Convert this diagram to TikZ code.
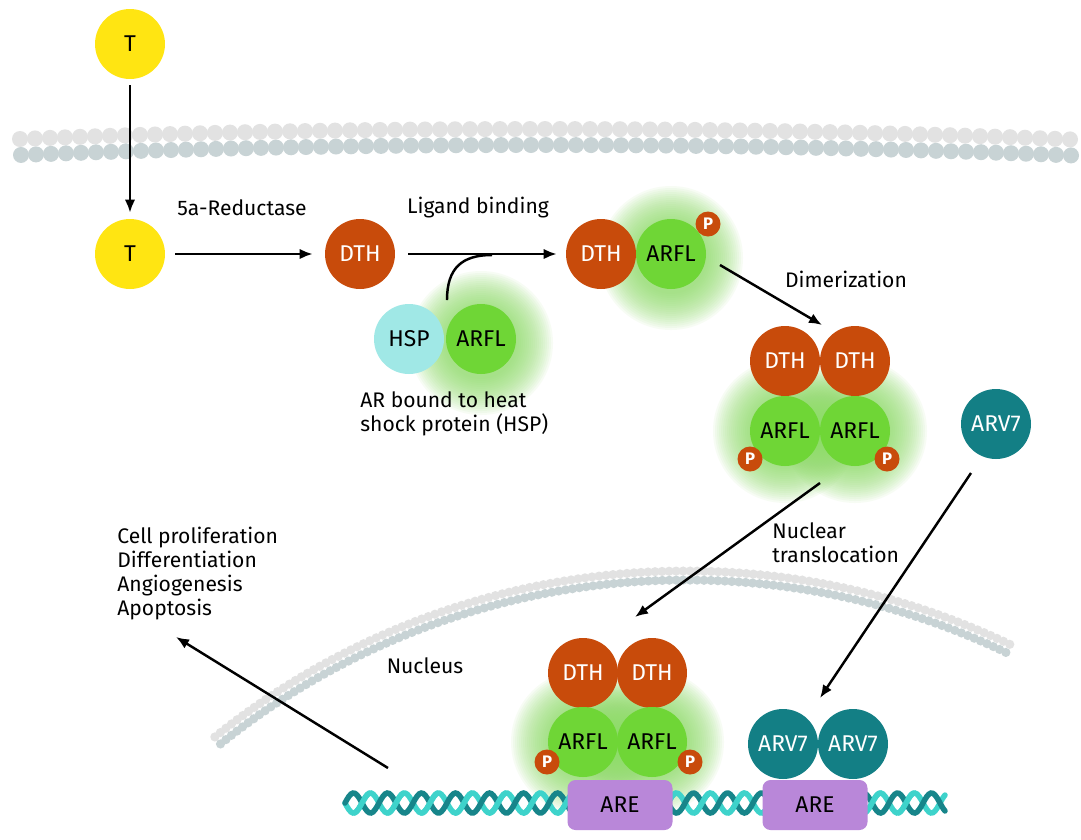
\documentclass[tikz,border=0pt]{standalone}
\usepackage{fontspec}
\setmainfont{Fira Sans}
\usetikzlibrary{arrows.meta}

\definecolor{tyellow}{HTML}{FFE512}
\definecolor{dthred}{HTML}{C84B0B}
\definecolor{arflgreen}{HTML}{6FD636}
\definecolor{hspcyan}{HTML}{A0E8E6}
\definecolor{arvteal}{HTML}{137F85}
\definecolor{arepurple}{HTML}{B987D9}
\definecolor{glowgreen}{HTML}{8CDC64}
\definecolor{memlight}{HTML}{E2E2E2}
\definecolor{memdark}{HTML}{C8D3D5}
\definecolor{dnadark}{HTML}{17858A}
\definecolor{dnalight}{HTML}{3ED3CB}

\newcommand{\glowat}[2]{\foreach \r in {36,38,...,72}{\fill[glowgreen, opacity=0.065] (#1,#2) circle (\r);}}

\begin{document}
\begin{tikzpicture}[x=0.02cm, y=-0.02cm,
  every node/.style={font=\fontsize{12}{13.6}\selectfont},
  mol/.style={circle, minimum size=1.4cm, inner sep=0pt, font=\fontsize{13}{13}\selectfont},
  tmol/.style={mol, fill=tyellow},
  dth/.style={mol, fill=dthred, text=white},
  arfl/.style={mol, fill=arflgreen},
  hsp/.style={mol, fill=hspcyan},
  arv/.style={mol, fill=arvteal, text=white},
  pbadge/.style={circle, fill=dthred, text=white, minimum size=0.5cm, inner sep=0pt, font=\fontsize{9.5}{9.5}\selectfont\bfseries},
  arebox/.style={rectangle, rounded corners=0.16cm, fill=arepurple, minimum width=2.1cm, minimum height=1cm, font=\fontsize{13}{13}\selectfont},
  arr/.style={-{Latex[length=2.6mm,width=2.1mm]}, line width=1.4pt},
  lbl/.style={align=left, anchor=north west, inner sep=0pt}]
   \fill[white] (0,0) rectangle (1081,839);
   \useasboundingbox (0,0) rectangle (1081,839);
   % cell membrane
   \foreach \i in {0,...,70}{
     \pgfmathsetmacro\mx{20+15*\i}
     \pgfmathsetmacro\my{129+0.37*((\mx-540)/100)^2}
     \fill[memlight] (\mx,\my) circle (8);
   }
   \foreach \i in {0,...,70}{
     \pgfmathsetmacro\mx{21+15*\i}
     \pgfmathsetmacro\my{145+0.37*((\mx-540)/100)^2}
     \fill[memdark] (\mx,\my) circle (8);
   }
   % nuclear membrane
   \foreach \i in {0,...,120}{
     \pgfmathsetmacro\ang{64.5+\i*0.5358}
     \fill[memlight] ({686+752*cos(\ang)},{1323-752*sin(\ang)}) circle (4.6);
   }
   \foreach \i in {0,...,120}{
     \pgfmathsetmacro\ang{64.5+\i*0.5358}
     \fill[memdark] ({686+743*cos(\ang)},{1323-743*sin(\ang)}) circle (4.6);
   }
   % glows
   \glowat{481}{343}
   \glowat{671}{258}
   \glowat{785}{431}
   \glowat{855}{431}
   \glowat{583}{742}
   \glowat{652}{742}
   % DNA
   \draw[dnalight, line width=0.11cm, line cap=round] plot[domain=345:945, samples=300] (\x, {803+10*sin(((\x-345)/34)*360)});
   \draw[dnadark, line width=0.11cm, line cap=round] plot[domain=345:945, samples=300] (\x, {803-10*sin(((\x-345)/34)*360)});
   \foreach \k [evaluate=\k as \da using 353.5+34*\k, evaluate=\k as \db using 370.5+34*\k] in {0,...,16}
     \draw[dnalight, line width=0.11cm] plot[domain=\da:\db, samples=12] (\x, {803+10*sin(((\x-345)/34)*360)});
   \node[arebox] (are1) at (620,805) {ARE};
   \node[arebox] (are2) at (815,805) {ARE};
   % molecules
   \node[tmol] (t1) at (130,44) {T};
   \node[tmol] (t2) at (130,254) {T};
   \node[dth] (dth1) at (360,254) {DTH};
   \node[hsp] (hsp) at (409,339) {HSP};
   \node[arfl] (arfl1) at (481,339) {ARFL};
   \node[dth] (dth2) at (601,254) {DTH};
   \node[arfl] (arfl2) at (671,254) {ARFL};
   \node[pbadge] (p2) at (708,224) {P};
   \node[dth] (dth3a) at (785,361) {DTH};
   \node[dth] (dth3b) at (855,361) {DTH};
   \node[arfl] (arfl3a) at (785,431) {ARFL};
   \node[arfl] (arfl3b) at (855,431) {ARFL};
   \node[pbadge] (p3a) at (750,459) {P};
   \node[pbadge] (p3b) at (887,459) {P};
   \node[arv] (arv1) at (996,424) {ARV7};
   \node[dth] (dth4a) at (583,673) {DTH};
   \node[dth] (dth4b) at (652,673) {DTH};
   \node[arfl] (arfl4a) at (583,742) {ARFL};
   \node[arfl] (arfl4b) at (652,742) {ARFL};
   \node[pbadge] (p4a) at (547,762) {P};
   \node[pbadge] (p4b) at (690,762) {P};
   \node[arv] (arv2a) at (783,744) {ARV7};
   \node[arv] (arv2b) at (853,744) {ARV7};
   % labels
   \node (lred) at (242,208) {5a-Reductase};
   \node (llig) at (478,208) {Ligand binding};
   \node (ldim) at (846,279) {Dimerization};
   \node[lbl] (lhsp) at (360,391) {AR bound to heat\\shock protein (HSP)};
   \node[lbl] (ltrans) at (772,522) {Nuclear\\translocation};
   \node[lbl] (lout) at (117,527) {Cell proliferation\\Differentiation\\Angiogenesis\\Apoptosis};
   \node (lnuc) at (425,666) {Nucleus};
   % arrows
   \coordinate (bind) at (447,300);
   \coordinate (join) at (492,255);
   \coordinate (dimS) at (720,265);
   \coordinate (dimE) at (822,325);
   \coordinate (trS) at (820,483);
   \coordinate (trE) at (635,617);
   \coordinate (arvS) at (971,473);
   \coordinate (arvE) at (820,698);
   \coordinate (outS) at (388,768);
   \coordinate (outE) at (176,637);
   \draw[arr, shorten <=0.12cm, shorten >=0.12cm] (t1) -- (t2);
   \draw[arr, shorten <=0.2cm, shorten >=0.24cm] (t2) -- (dth1);
   \draw[arr, shorten <=0.26cm, shorten >=0.18cm] (dth1) -- (dth2);
   \draw[line width=1.4pt] (bind) .. controls (447,268) and (462,255) .. (join);
   \draw[arr] (dimS) -- (dimE);
   \draw[arr] (trS) -- (trE);
   \draw[arr] (arvS) -- (arvE);
   \draw[arr] (outS) -- (outE);
\end{tikzpicture}
\end{document}
